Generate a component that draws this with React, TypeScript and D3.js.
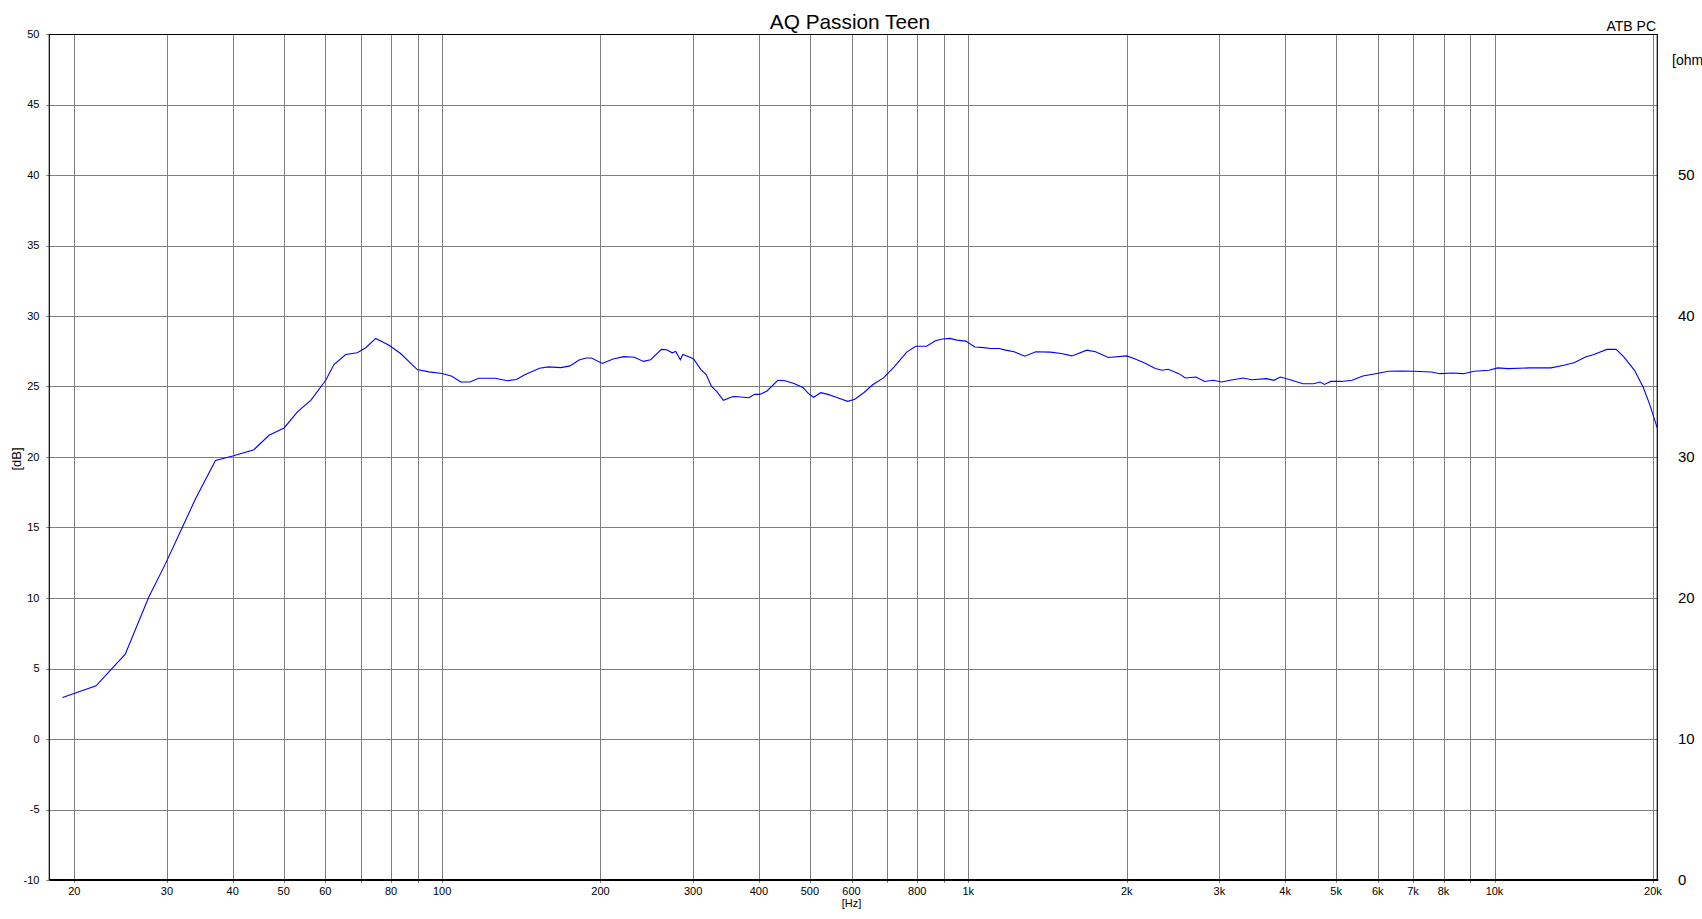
import React from "react";
import * as d3 from "d3";

const TITLE = "AQ Passion Teen";
const SUBTITLE = "ATB PC";

const FREQ = [
  19.0, 22.0, 25.0, 27.7, 29.8, 32.1, 34.0, 37.1, 40.0, 43.9, 46.9, 50.1, 53.1, 56.3, 60.1, 62.3, 65.6, 69.0, 71.6, 74.8,
  79.3, 83.4, 89.7, 94.4, 100, 104.4, 108.5, 112.9, 117.4, 126, 133.1, 138.4, 143.9, 153.2, 159.3, 168.3, 175, 182.1,
  187.9, 192.3, 201.6, 211.3, 221.4, 232.1, 241.3, 249.1, 261.1, 267.3, 273.7, 278, 283.7, 286.8, 295.9, 300.6, 310.2,
  317.6, 325.1, 332.8, 342.4, 357.2, 365.7, 383.3, 392.3, 401.7, 414.5, 434.5, 448.4, 466.3, 485, 496.5, 508.2, 524.5,
  541.2, 562.8, 589.9, 608.6, 632.9, 658.2, 690, 723.1, 763.9, 794.4, 832.8, 866.1, 893.7, 922.1, 951.5, 989.4, 1029,
  1070, 1103, 1145, 1177, 1222, 1281, 1343, 1433, 1502, 1574, 1680, 1745, 1845, 2000, 2065, 2164, 2267, 2332, 2398,
  2513, 2585, 2709, 2812, 2920, 3030, 3146, 3328, 3455, 3690, 3808, 3917, 4089, 4325, 4532, 4661, 4749, 4885, 5118,
  5364, 5621, 5946, 6289, 6653, 7036, 7586, 7875, 8329, 8727, 9146, 9764, 10137, 10622, 11664, 12807, 13546, 14203,
  14882, 15451, 16341, 17028, 17610, 18454, 19159, 19703, 20380,
];

const SPL = [
  2.94, 3.77, 6.02, 10.05, 12.42, 15.02, 17.04, 19.76, 20.07, 20.52, 21.54, 22.06, 23.2, 24.02, 25.44, 26.56, 27.27,
  27.39, 27.75, 28.41, 27.93, 27.34, 26.2, 26.04, 25.92, 25.73, 25.32, 25.32, 25.59, 25.59, 25.41, 25.49, 25.85, 26.29,
  26.39, 26.34, 26.46, 26.88, 27.02, 27.02, 26.63, 26.95, 27.12, 27.07, 26.78, 26.9, 27.63, 27.61, 27.39, 27.49, 26.9,
  27.27, 27.07, 26.95, 26.22, 25.85, 25.0, 24.63, 24.02, 24.29, 24.27, 24.2, 24.44, 24.44, 24.68, 25.44, 25.41, 25.22,
  24.93, 24.51, 24.24, 24.56, 24.44, 24.22, 23.95, 24.1, 24.56, 25.12, 25.61, 26.39, 27.44, 27.85, 27.85, 28.24, 28.37,
  28.41, 28.29, 28.22, 27.8, 27.76, 27.7, 27.7, 27.58, 27.46, 27.15, 27.46, 27.44, 27.34, 27.17, 27.58, 27.46, 27.06,
  27.17, 26.98, 26.67, 26.27, 26.15, 26.22, 25.91, 25.6, 25.67, 25.36, 25.44, 25.32, 25.44, 25.6, 25.48, 25.56, 25.44,
  25.67, 25.48, 25.2, 25.2, 25.32, 25.15, 25.36, 25.36, 25.44, 25.75, 25.91, 26.08, 26.1, 26.08, 26.03, 25.91, 25.96,
  25.91, 26.08, 26.15, 26.32, 26.27, 26.32, 26.32, 26.51, 26.7, 27.1, 27.27, 27.63, 27.63, 27.1, 26.15, 24.96, 23.77,
  22.06,
];

const GRID_FREQS = [20, 30, 40, 50, 60, 70, 80, 90, 100, 200, 300, 400, 500, 600, 700, 800, 900, 1000, 2000, 3000, 4000, 5000, 6000, 7000, 8000, 9000, 10000, 20000];
const FREQ_LABELS = ["20", "30", "40", "50", "60", "", "80", "", "100", "200", "300", "400", "500", "600", "", "800", "", "1k", "2k", "3k", "4k", "5k", "6k", "7k", "8k", "", "10k", "20k"];
const DB_TICKS = [-10, -5, 0, 5, 10, 15, 20, 25, 30, 35, 40, 45, 50];
const OHM_TICKS = [0, 10, 20, 30, 40, 50];

const FONT = "Liberation Sans, Arial, sans-serif";

export default function App() {
  const left = 49.3, right = 1657.3, top = 34, bottom = 880;
  const x = d3.scaleLog().domain([17.93, 20388]).range([left, right]);
  const y = d3.scaleLinear().domain([-10, 50]).range([bottom, top]);
  const yOhm = d3.scaleLinear().domain([0, 60]).range([bottom, top]);
  const data = FREQ.map((f, i) => [f, SPL[i]] as [number, number]);
  const line = d3.line<[number, number]>().x(d => x(d[0])).y(d => y(d[1]));

  return (
    <svg width={1702} height={919} style={{ position: "absolute", left: 0, top: 0, background: "#fff" }} fontFamily={FONT}>
      <rect x={0} y={0} width={1702} height={919} fill="#fff" />
      {GRID_FREQS.map(f => (
        <line key={"gx" + f} x1={Math.round(x(f)) + 0.5} x2={Math.round(x(f)) + 0.5} y1={top} y2={bottom + 3} stroke="#808080" strokeWidth={1} />
      ))}
      {DB_TICKS.map(v => (
        <line key={"gy" + v} x1={left - 3} x2={right} y1={Math.round(y(v)) + 0.5} y2={Math.round(y(v)) + 0.5} stroke="#808080" strokeWidth={1} />
      ))}
      <line x1={left} x2={right} y1={top + 0.5} y2={top + 0.5} stroke="#000" strokeWidth={1} />
      <line x1={left} x2={left} y1={top} y2={bottom} stroke="#000" strokeWidth={1.2} />
      <line x1={right} x2={right} y1={top} y2={bottom} stroke="#000" strokeWidth={1.2} />
      <line x1={left} x2={right + 1} y1={bottom} y2={bottom} stroke="#000" strokeWidth={2} />
      <path d={line(data) || ""} fill="none" stroke="#0000ff" strokeWidth={1.1} />
      {DB_TICKS.map(v => (
        <text key={"ly" + v} x={39.5} y={y(v)} dy="0.35em" textAnchor="end" fontSize={11} fill="#000">{v}</text>
      ))}
      <text transform={`translate(21,459) rotate(-90)`} textAnchor="middle" fontSize={13} fill="#000">[dB]</text>
      {GRID_FREQS.map((f, i) => FREQ_LABELS[i] ? (
        <text key={"lx" + f} x={x(f)} y={895} textAnchor="middle" fontSize={11} fill="#000">{FREQ_LABELS[i]}</text>
      ) : null)}
      <text x={x(600)} y={907} textAnchor="middle" fontSize={11} fill="#000">[Hz]</text>
      {OHM_TICKS.map(v => (
        <text key={"ro" + v} x={1678} y={yOhm(v)} dy="0.35em" textAnchor="start" fontSize={15} fill="#000">{v}</text>
      ))}
      <text x={1672} y={65} fontSize={14} fill="#000">[ohm]</text>
      <text x={850} y={29} textAnchor="middle" fontSize={20.8} fill="#000">{TITLE}</text>
      <text x={1656} y={31} textAnchor="end" fontSize={14} fill="#000">{SUBTITLE}</text>
    </svg>
  );
}
